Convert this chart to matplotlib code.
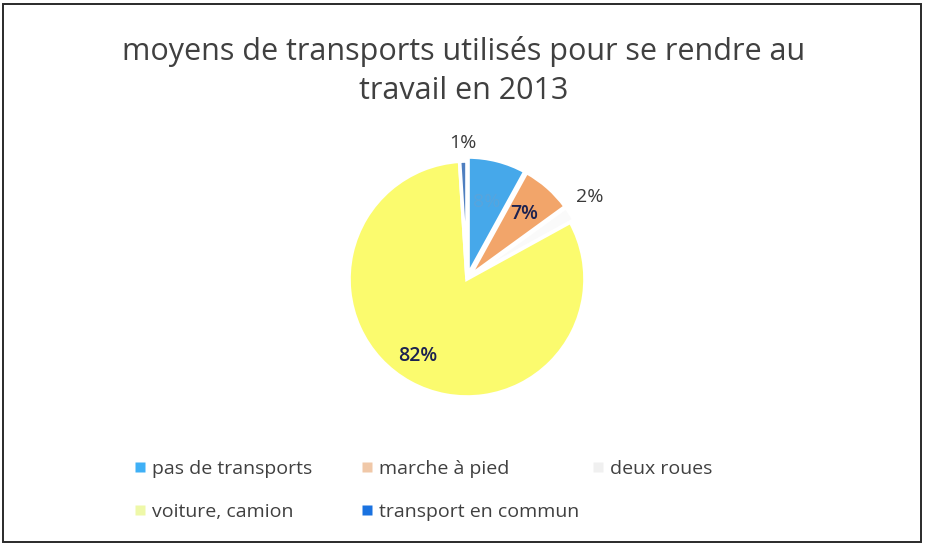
import numpy as np
import matplotlib
matplotlib.use("Agg")
import matplotlib.pyplot as plt
from matplotlib.lines import Line2D
from matplotlib.patches import Rectangle

plt.rcParams['font.family'] = ['Open Sans', 'DejaVu Sans']

# Data
categories = ["pas de transports", "marche à pied", "deux roues",
              "voiture, camion", "transport en commun"]
shares = [8, 7, 2, 82, 1]
title = "moyens de transports utilisés pour se rendre au\ntravail en 2013"

# Styling
colors = ["#46a8ea", "#f2a56a", "#fafafa", "#fbfb6e", "#4f7fc0"]
legend_colors = ["#3fb0f6", "#f0c8a8", "#f0f0f0", "#eef8a8", "#1a72e0"]
explode = [0.035, 0.035, 0.035, 0.0, 0.0]
label_r = [0.64, 0.70, 1.26, 0.78, 1.15]
label_color = ["#58a4dc", "#1c2250", "#3a3a3a", "#1c2250", "#3a3a3a"]
label_weight = ["normal", "semibold", "normal", "semibold", "normal"]
label_shift = [(0, 0), (0.0, 0.0), (-0.05, 0.0), (-0.04, 0.03), (0, 0)]

W, H = 928, 548
fig = plt.figure(figsize=(W / 100, H / 100), dpi=100)
fig.patch.set_facecolor("white")

# outer frame
fig.add_artist(Rectangle((3 / W, 6 / H), 918 / W, 538 / H, transform=fig.transFigure,
                         fill=False, edgecolor="#2a2a2a", linewidth=1.4))

# title
fig.text(464 / W, 1 - 71 / H, title, ha="center", va="center",
         fontsize=22, color="#404040", linespacing=1.4)

# pie
cx, cy, R = 467, 279, 118
half = 160
ax = fig.add_axes([(cx - half) / W, (H - cy - half) / H, 2 * half / W, 2 * half / H])

wedges, _ = ax.pie(shares, colors=colors, startangle=90, counterclock=False,
                   explode=explode, radius=1.0,
                   wedgeprops=dict(edgecolor="white", linewidth=2.6))
lim = half / R
ax.set_xlim(-lim, lim)
ax.set_ylim(-lim, lim)
ax.set_aspect("equal")
ax.axis("off")

total = float(sum(shares))
start = 90.0
for i, v in enumerate(shares):
    span = 360.0 * v / total
    mid = np.deg2rad(start - span / 2)
    r = label_r[i] + explode[i]
    x = r * np.cos(mid) + label_shift[i][0]
    y = r * np.sin(mid) + label_shift[i][1]
    ax.text(x, y, f"{v}%", ha="center", va="center", fontsize=14,
            color=label_color[i], fontweight=label_weight[i])
    start -= span

# legend, three equal-width columns
col_x = [134, 361, 592]
rows_per_col = [[0, 3], [1, 4], [2]]
for cx_px, idxs in zip(col_x, rows_per_col):
    handles = [Line2D([], [], marker="s", linestyle="none", markersize=7.5,
                      markerfacecolor=legend_colors[i], markeredgecolor="none")
               for i in idxs]
    labels = [categories[i] for i in idxs]
    fig.legend(handles, labels, loc="upper left",
               bbox_to_anchor=(cx_px / W, 1 - 460 / H),
               frameon=False, fontsize=14, handlelength=0.6, handletextpad=0.35,
               labelspacing=1.3, borderaxespad=0, borderpad=0,
               labelcolor="#404040")

fig.savefig("out.png", dpi=100, facecolor="white")
